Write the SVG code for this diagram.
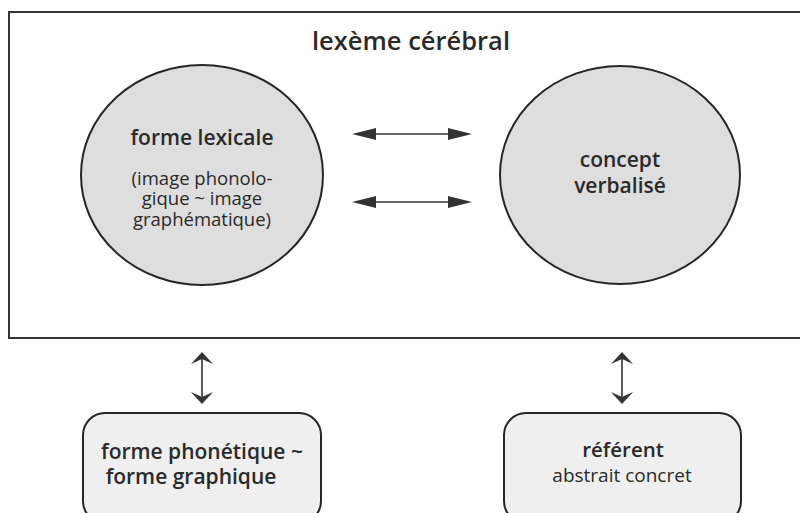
<svg xmlns="http://www.w3.org/2000/svg" width="800" height="513" viewBox="0 0 800 513">
<style>
text{font-family:"Open Sans","Noto Sans","DejaVu Sans",sans-serif;fill:#2a2a2a;text-anchor:middle}
.b{font-weight:600}
.ell{fill:#dedede;stroke:#262626;stroke-width:2}
.box{fill:#efefef;stroke:#262626;stroke-width:2}
.ln{stroke:#333;stroke-width:1.6;fill:none}
.hd{fill:#333}
</style>
<rect width="800" height="513" fill="#fff"/>
<g id="lexeme">
<path d="M812 12 H9 V338 H812" fill="none" stroke="#333" stroke-width="2"/>
<text x="411" y="50" font-size="25.5" font-weight="600">lexème cérébral</text>
</g>
<g id="forme-lexicale">
<ellipse class="ell" cx="202" cy="175" rx="121" ry="110"/>
<text class="b" x="202" y="145" font-size="21">forme lexicale</text>
<text font-size="18.5"><tspan x="202" y="184.5">(image phonolo-</tspan><tspan x="202" y="205">gique ~ image</tspan><tspan x="202" y="225.5">graphématique)</tspan></text>
</g>
<g id="concept">
<ellipse class="ell" cx="620" cy="175" rx="120" ry="109"/>
<text class="b" font-size="21"><tspan x="620" y="167">concept</tspan><tspan x="620" y="193">verbalisé</tspan></text>
</g>
<g id="forme-phonetique">
<rect class="box" x="83" y="413" width="238" height="110" rx="22"/>
<text class="b" font-size="21"><tspan x="202" y="459">forme phonétique ~</tspan><tspan x="191" y="484">forme graphique</tspan></text>
</g>
<g id="referent">
<rect class="box" x="504" y="413" width="237" height="110" rx="22"/>
<text class="b" x="623" y="457" font-size="20.5">référent</text>
<text x="622" y="482" font-size="19">abstrait concret</text>
</g>
<g id="connectors">
<line class="ln" x1="370" y1="134" x2="455" y2="134"/>
<path class="hd" d="M352 134 L376 128 L376 140 Z M472 134 L448 128 L448 140 Z"/>
<line class="ln" x1="370" y1="202" x2="455" y2="202"/>
<path class="hd" d="M352 202 L376 196 L376 208 Z M472 202 L448 196 L448 208 Z"/>
<line class="ln" x1="202" y1="356" x2="202" y2="400"/>
<path class="hd" d="M202 352 L213 364 L202 359 L191 364 Z M202 404 L213 392 L202 397 L191 392 Z"/>
<line class="ln" x1="622" y1="356" x2="622" y2="400"/>
<path class="hd" d="M622 352 L633 364 L622 359 L611 364 Z M622 404 L633 392 L622 397 L611 392 Z"/>
</g>
</svg>
